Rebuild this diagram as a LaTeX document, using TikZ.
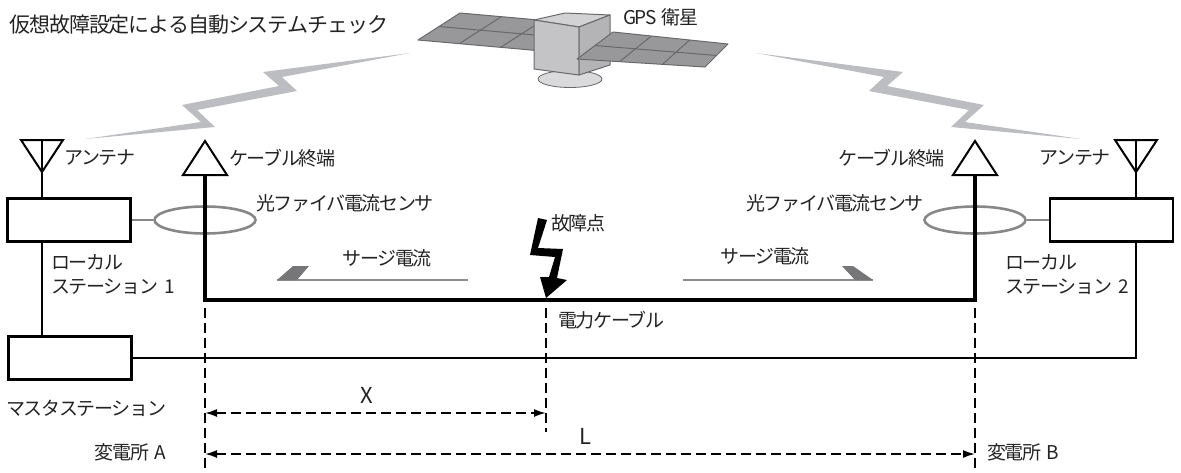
\documentclass[tikz,border=0pt]{standalone}
\usepackage{fontspec}
\setmainfont[LetterSpace=-7]{Noto Sans CJK JP}
\newfontfamily\titlefont[LetterSpace=-5]{Noto Sans CJK JP}
\usetikzlibrary{calc,shapes.geometric,arrows.meta,positioning}

\definecolor{txtgray}{RGB}{35,35,35}
\definecolor{beamfill}{RGB}{187,189,192}
\definecolor{panelfill}{RGB}{152,152,154}
\definecolor{paneledge}{RGB}{105,105,107}
\definecolor{cubefront}{RGB}{196,196,198}
\definecolor{cubeside}{RGB}{180,180,182}
\definecolor{cubetop}{RGB}{210,210,212}
\definecolor{dishfill}{RGB}{218,218,220}
\definecolor{sensorgray}{RGB}{135,135,137}
\definecolor{surgeline}{RGB}{140,140,142}
\definecolor{surgebarb}{RGB}{118,118,120}

\tikzset{%
    station/.style={%
        rectangle, draw=black, line width=2.6pt, minimum width=123pt, minimum height=43pt, inner sep=0pt
    },
    sensor/.style={%
        ellipse, draw=sensorgray, line width=2.6pt, minimum width=101pt, minimum height=27pt, inner sep=0pt
    },
    sensorlink/.style={%
        draw=sensorgray, line width=2.6pt
    },
    cable/.style={%
        line width=3.4pt, line join=miter
    },
    wire/.style={%
        line width=1.6pt
    },
    aerial/.style={%
        line width=2pt, line join=miter
    },
    lbl/.style={%
        font=\fontsize{19}{24}\selectfont, text=txtgray, inner sep=0pt
    },
    dimlbl/.style={%
        font=\fontsize{22}{26}\selectfont, text=txtgray, inner sep=0pt
    },
    dimline/.style={%
        line width=1.8pt, dash pattern=on 10pt off 5pt
    },
    dimarrow/.style={%
        dimline, arrows={Latex[length=12pt,width=8pt]-Latex[length=12pt,width=8pt]}
    },
    surge/.style={%
        draw=surgeline, line width=2pt
    },
    barb/.style={%
        fill=surgebarb
    },
    panel/.style={%
        fill=panelfill, draw=paneledge, line width=1pt, line join=round
    },
    cubeface/.style={%
        draw=paneledge, line width=1pt, line join=round
    },
    beam/.pic={%
        \fill[beamfill] (410,53) -- (263,72) -- (279,86) -- (182,105) -- (201,122) -- (85,139)
            -- (215,127) -- (197,110) -- (297,91) -- (282,77) -- cycle;
    },
}

\begin{document}
\begin{tikzpicture}[x=1pt, y=-1pt]
  \useasboundingbox (0,0) rectangle (1181,472);

  \node[lbl, anchor=west, font=\titlefont\fontsize{21}{26}\selectfont] (title) at (9,25) {仮想故障設定による自動システムチェック};

  % radio links
  \pic at (0,0) {beam};
  \pic[xscale=-1] at (1166,0) {beam};

  % satellite
  \draw[panel] (418,40) -- ++(42,-27) -- ++(124,11) -- ++(-42,27) -- cycle;
  \draw[paneledge, line width=1pt] ($(418,40)+(21,-13.5)$) -- ++(124,11);
  \foreach \k in {1,2}
    \draw[paneledge, line width=1pt] ($(418,40)+\k*(41.33,3.67)$) -- ++(42,-27);
  \filldraw[fill=dishfill, draw=paneledge, line width=0.8pt] (570,79) ellipse [x radius=32pt, y radius=8.5pt];
  \filldraw[cubeface, fill=cubetop] (534,20) -- (565,13) -- (610,15) -- (579,27) -- cycle;
  \filldraw[cubeface, fill=cubefront] (534,20) -- (579,27) -- (579,75) -- (534,69) -- cycle;
  \filldraw[cubeface, fill=cubeside] (579,27) -- (610,15) -- (610,65) -- (579,75) -- cycle;
  \draw[panel] (577,59) -- (613,32) -- (728,44) -- (705,67) -- cycle;
  \draw[paneledge, line width=1pt] ($(577,59)!.5!(613,32)$) -- ($(705,67)!.5!(728,44)$);
  \foreach \k in {0.333,0.667}
    \draw[paneledge, line width=1pt] ($(577,59)!\k!(705,67)$) -- ($(613,32)!\k!(728,44)$);
  \node[lbl, anchor=west] (gpslbl) at (623,17) {GPS\hspace{5pt}衛星};

  % stations and sensors
  \node[station] (station1) at (69,220) {};
  \node[station] (station2) at (1111.5,220) {};
  \node[station] (master) at (70,358) {};
  \node[sensor] (sensorL) at (205,220) {};
  \node[sensor] (sensorR) at (975,220) {};
  \draw[sensorlink] (station1) -- (sensorL);
  \draw[sensorlink] (sensorR) -- (station2);

  \coordinate (antL) at (42,140);
  \coordinate (antR) at (1136,140);
  \coordinate (termL) at (205,141);
  \coordinate (termR) at (975,141);
  \coordinate (fault) at (546,300);
  \coordinate (cornerL) at (termL |- fault);
  \coordinate (cornerR) at (termR |- fault);

  \foreach \a in {antL,antR} {
    \draw[aerial] ($(\a)+(-21,0)$) -- ($(\a)+(21,0)$) -- ($(\a)+(0,32)$) -- cycle;
    \draw[aerial] (\a) -- (\a |- station1.north);
  }
  \foreach \t in {termL,termR}
    \draw[aerial] (\t) -- ($(\t)+(22,34)$) -- ($(\t)+(-22,34)$) -- cycle;

  \draw[cable] ($(termL)+(0,34)$) -- (cornerL) -- (cornerR) -- ($(termR)+(0,34)$);
  \draw[wire] (antL |- station1.south) -- (antL |- master.north);
  \draw[wire] (antR |- station2.south) |- (master.east);

  % fault
  \fill[black] ($(fault)+(-8,-82)$) -- ++(9,2) -- ++(-9,28) -- ++(25,1) -- ++(-6,29) -- ++(10,2)
    -- ++(-21,18) -- ++(-6,-21) -- ++(9,0) -- ++(6,-20) -- ++(-25,-2) -- cycle;

  % surge currents
  \coordinate (surgeL) at (277,280);
  \coordinate (surgeLend) at (468,280);
  \coordinate (surgeR) at (873,280);
  \coordinate (surgeRend) at (683,280);
  \draw[surge] (surgeL) -- (surgeLend);
  \fill[barb] (surgeL) -- ++(16,-14) -- ++(16,0) -- ++(-12,14) -- cycle;
  \draw[surge] (surgeRend) -- (surgeR);
  \fill[barb] (surgeR) -- ++(-20,-14) -- ++(-11,0) -- ++(13,14) -- cycle;

  % distances
  \coordinate (base) at (0,472);
  \coordinate (xend) at (0,432);
  \coordinate (xrow) at (0,413);
  \coordinate (lrow) at (0,454);
  \draw[dimline] ([yshift=-8pt]cornerL) -- (cornerL |- base);
  \draw[dimline] ([yshift=-8pt]cornerR) -- (cornerR |- base);
  \draw[dimline] ([yshift=-8pt]fault) -- (fault |- xend);
  \draw[dimarrow] (cornerL |- xrow) -- (fault |- xrow);
  \draw[dimarrow] (cornerL |- lrow) -- (cornerR |- lrow);

  % labels
  \node[lbl, anchor=west] (antLlbl) at (64,158) {アンテナ};
  \node[lbl, anchor=east] (antRlbl) at (1111,158) {アンテナ};
  \node[lbl, anchor=west] (termLlbl) at (229,158) {ケーブル終端};
  \node[lbl, anchor=east] (termRlbl) at (945,158) {ケーブル終端};
  \node[lbl, anchor=west] (sensorLlbl) at (256,203) {光ファイバ電流センサ};
  \node[lbl, anchor=east] (sensorRlbl) at (924,203) {光ファイバ電流センサ};
  \node[lbl, anchor=west, align=left] (st1lbl) at (51,275) {ローカル\\ステーション\hspace{6pt}1};
  \node[lbl, anchor=west, align=left] (st2lbl) at (1005,275) {ローカル\\ステーション\hspace{6pt}2};
  \node[lbl, anchor=west] (faultlbl) at (551,223) {故障点};
  \node[lbl] (surgeLlbl) at (387,258) {サージ電流};
  \node[lbl] (surgeRlbl) at (765,256) {サージ電流};
  \node[lbl, anchor=west] (cablelbl) at (558,320) {電力ケーブル};
  \node[lbl, anchor=west] (masterlbl) at (6,408) {マスタステーション};
  \node[lbl, anchor=east] (subAlbl) at (166,452) {変電所\hspace{5pt}A};
  \node[lbl, anchor=west] (subBlbl) at (987,452) {変電所\hspace{5pt}B};
  \node[dimlbl] (xlbl) at (367,395) {X};
  \node[dimlbl] (llbl) at (585,436) {L};
\end{tikzpicture}
\end{document}
